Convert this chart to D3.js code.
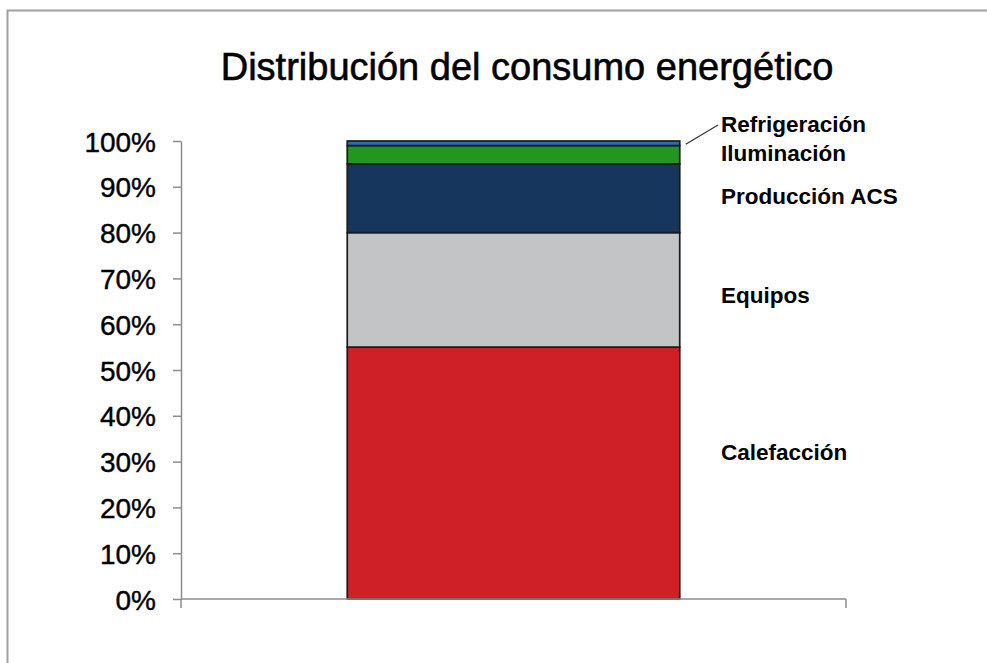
<!DOCTYPE html>
<html><head><meta charset="utf-8">
<script src="https://cdn.jsdelivr.net/npm/d3@7"></script>
<style>
html,body{margin:0;padding:0;background:#fff;}
svg{display:block;}
</style></head>
<body>
<svg id="chart" width="987" height="663"></svg>
<script>
// Data
const categories = ["Calefacción","Equipos","Producción ACS","Iluminación","Refrigeración"];
const values = [55, 25, 15, 4, 1];
const colors = ["#d02027","#c3c4c6","#17365d","#22961f","#2b6cb5"];
const yTicks = [0,10,20,30,40,50,60,70,80,90,100];
const title = "Distribución del consumo energético";
// label placement (in % units on the value axis)
const labelPos = [32.1, 66.4, 88, 97.4, 103.7];

const svg = d3.select("#chart");
// outer frame
svg.append("rect").attr("x",7.5).attr("y",10.5).attr("width",1000).attr("height",700)
  .attr("fill","none").attr("stroke","#a0a0a0").attr("stroke-width",2);

svg.append("text").attr("x",527).attr("y",80).attr("text-anchor","middle")
  .attr("font-family","Liberation Sans, Arial, sans-serif").attr("font-size",38)
  .attr("stroke","#000").attr("stroke-width",0.6)
  .attr("fill","#000").text(title);

const y = d3.scaleLinear().domain([0,100]).range([599,141]);
const x0 = 181, x1 = 846;
const bx = d3.scaleBand().domain(["all"]).range([x0,x1]).paddingInner(0.5).paddingOuter(0.25);

// stacked
let acc = 0;
const stack = values.map((v,i)=>{const s={cat:categories[i],y0:acc,y1:acc+v,color:colors[i],lp:labelPos[i]};acc+=v;return s;});

const g = svg.append("g");
g.selectAll("rect.seg").data(stack).enter().append("rect")
  .attr("x",bx("all")).attr("width",bx.bandwidth())
  .attr("y",d=>y(d.y1)).attr("height",d=>y(d.y0)-y(d.y1))
  .attr("fill",d=>d.color).attr("stroke","#1a1a1a").attr("stroke-width",1.7);

// axes
const yAxis = d3.axisLeft(y).tickValues(yTicks).tickFormat(d=>d+"%").tickSize(8).tickSizeOuter(0);
const ga = svg.append("g").attr("transform",`translate(${x0},0)`).call(yAxis);
ga.select(".domain").attr("stroke","#8c8c8c").attr("stroke-width",1.5);
ga.selectAll(".tick line").attr("stroke","#8c8c8c").attr("stroke-width",1.5);
ga.selectAll(".tick text").attr("font-family","Liberation Sans, Arial, sans-serif")
  .attr("font-size",28).attr("fill","#000").attr("x",-25).attr("dy","0.36em")
  .attr("stroke","#000").attr("stroke-width",0.4);

// x axis line with end ticks
svg.append("line").attr("x1",x0).attr("x2",x1).attr("y1",y(0)).attr("y2",y(0))
  .attr("stroke","#8c8c8c").attr("stroke-width",1.5);
[x0,x1].forEach(xx=>svg.append("line").attr("x1",xx).attr("x2",xx).attr("y1",y(0)).attr("y2",y(0)+9)
  .attr("stroke","#8c8c8c").attr("stroke-width",1.5));

// labels
const lx = 721;
svg.selectAll("text.lab").data(stack).enter().append("text")
  .attr("x",lx).attr("y",d=>y(d.lp)).attr("dy","0.36em")
  .attr("font-family","Liberation Sans, Arial, sans-serif")
  .attr("font-weight","bold").attr("font-size",22.5).attr("fill","#000").text(d=>d.cat);

// leader line for Refrigeración
const last = stack[stack.length-1];
svg.append("line").attr("x1",bx("all")+bx.bandwidth()+6).attr("y1",y((last.y0+last.y1)/2)+1)
  .attr("x2",lx-3).attr("y2",y(last.lp)+1).attr("stroke","#333").attr("stroke-width",1.2);
</script>
</body></html>
